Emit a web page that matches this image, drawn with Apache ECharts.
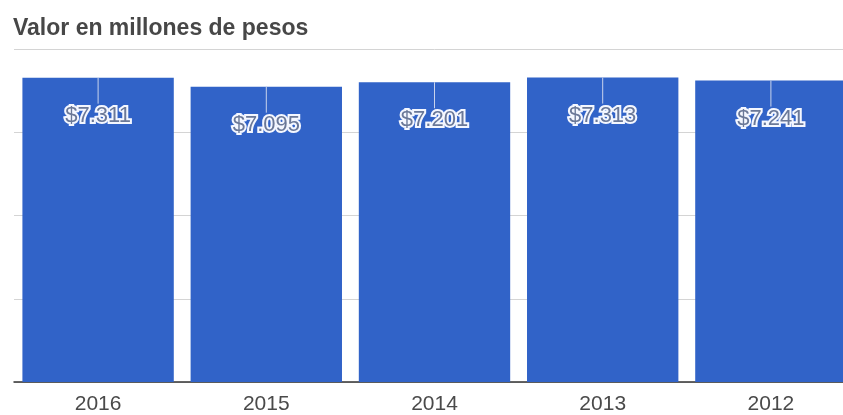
<!DOCTYPE html>
<html>
<head>
<meta charset="utf-8">
<script src="https://cdn.jsdelivr.net/npm/echarts@6/dist/echarts.min.js"></script>
<style>
  html, body { margin: 0; padding: 0; background: #fff; overflow: hidden; }
  #chart { width: 860px; height: 415px; }
</style>
</head>
<body>
<div id="chart"></div>
<script>
// Annual values, millions of pesos
const years = ['2016', '2015', '2014', '2013', '2012'];
const values = [7311, 7095, 7201, 7313, 7241];
const yMax = 8000;
const yStep = 2000;

// "$7.311" style labels (dot as thousands separator)
function fmt(v) {
  return '$' + String(v).replace(/\B(?=(\d{3})+(?!\d))/g, '.');
}

const chart = echarts.init(document.getElementById('chart'), null, { renderer: 'canvas' });

chart.setOption({
  animation: false,
  backgroundColor: '#ffffff',
  title: {
    text: 'Valor en millones de pesos',
    left: 8,
    top: 12,
    textStyle: {
      fontFamily: 'Liberation Sans, Arial, sans-serif',
      fontSize: 23,
      fontWeight: 'bold',
      color: '#474747'
    }
  },
  grid: { left: 14, right: 5, top: 49, bottom: 33, containLabel: false },
  xAxis: {
    type: 'category',
    data: years,
    axisTick: { show: false },
    axisLine: { show: true, lineStyle: { color: '#333333', width: 1.5 } },
    axisLabel: {
      margin: 12,
      fontFamily: 'Liberation Sans, Arial, sans-serif',
      fontSize: 21,
      color: '#4a4a4a'
    }
  },
  yAxis: {
    type: 'value',
    min: 0,
    max: yMax,
    interval: yStep,
    axisLabel: { show: false },
    axisLine: { show: false },
    axisTick: { show: false },
    splitLine: { show: true, lineStyle: { color: '#d4d4d4', width: 1 } }
  },
  series: [
    {
      type: 'bar',
      data: values,
      barCategoryGap: '10%',
      itemStyle: { color: '#3163c8' },
      label: {
        show: true,
        position: 'insideTop',
        distance: 27,
        formatter: p => fmt(p.value),
        fontFamily: 'Liberation Sans, Arial, sans-serif',
        fontSize: 22,
        color: '#6a7898',
        textBorderColor: '#f4f7ff',
        textBorderWidth: 4
      },
      z: 2
    },
    {
      // thin stem from bar top down to its label
      type: 'custom',
      data: values.map((v, i) => [i, v]),
      z: 3,
      silent: true,
      renderItem: function (params, api) {
        const p = api.coord([api.value(0), api.value(1)]);
        return {
          type: 'line',
          shape: { x1: p[0], y1: p[1], x2: p[0], y2: p[1] + 26 },
          style: { stroke: '#c9d3ec', lineWidth: 1 }
        };
      }
    }
  ]
});
</script>
</body>
</html>
